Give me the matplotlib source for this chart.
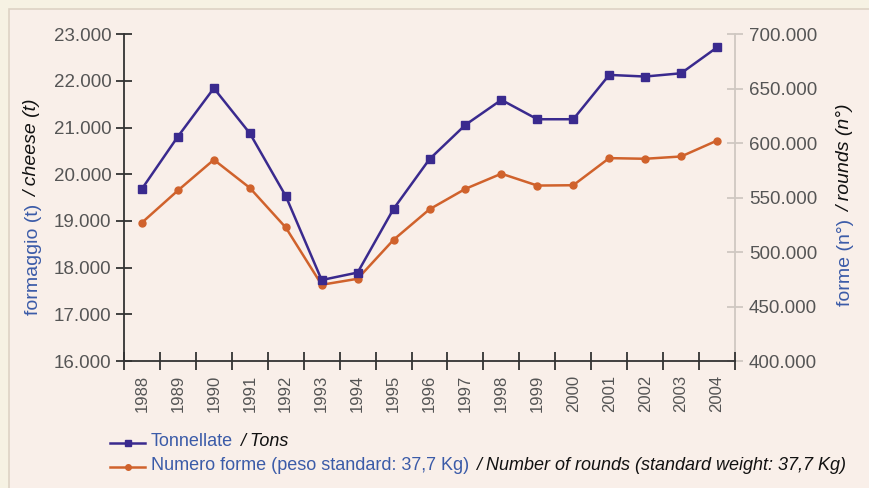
import matplotlib
matplotlib.use("Agg")
import matplotlib.pyplot as plt
from matplotlib import font_manager
from matplotlib.lines import Line2D
from matplotlib.patches import Rectangle
from matplotlib.ticker import FixedLocator, FuncFormatter, NullFormatter
from matplotlib.transforms import IdentityTransform

# dati
years = ["1988", "1989", "1990", "1991", "1992", "1993", "1994", "1995", "1996",
         "1997", "1998", "1999", "2000", "2001", "2002", "2003", "2004"]
tons = [19690, 20810, 21845, 20880, 19535, 17735, 17895, 19260, 20325,
        21060, 21595, 21180, 21180, 22130, 22095, 22165, 22720]
rounds = [527100, 556600, 584800, 559000, 522600, 470000, 475500, 511300, 539300,
          558100, 572000, 561100, 561400, 586300, 585700, 587800, 602400]

left_ticks = [16000, 17000, 18000, 19000, 20000, 21000, 22000, 23000]
right_ticks = [400000, 450000, 500000, 550000, 600000, 650000, 700000]

BLUE = "#3a2a8e"
ORANGE = "#d0622c"
TXT_BLUE = "#3b5ba8"
TICK_GRAY = "#555555"

names = {f.name for f in font_manager.fontManager.ttflist}
NARROW = "Liberation Sans Narrow" if "Liberation Sans Narrow" in names else "Liberation Sans"
plt.rcParams["font.family"] = ["Liberation Sans", "DejaVu Sans"]

W, H = 869, 488
fig = plt.figure(figsize=(W / 100, H / 100), dpi=100)
fig.patch.set_facecolor("#f6f2e3")
fig.patches.append(Rectangle((9, -5), W, H - 9 + 5, transform=IdentityTransform(),
                             facecolor="#f9efe9", edgecolor="#ddd3c4", lw=1.2, zorder=-10))

ax = fig.add_axes([124 / W, 1 - 361 / H, (735 - 124) / W, (361 - 34.3) / H])
ax2 = ax.twinx()
ax.set_facecolor("none")
ax2.set_facecolor("none")
ax.set_zorder(ax2.get_zorder() + 1)  # asse sinistro e linea blu sopra

x = list(range(len(years)))
ax.plot(x, tons, color=BLUE, lw=1.8, marker="s", ms=5.5, zorder=3)
ax2.plot(x, rounds, color=ORANGE, lw=1.8, marker="o", ms=5, zorder=3)

ax.set_xlim(-0.5, len(years) - 0.5)
ax.set_ylim(16000, 23000)
ax2.set_ylim(400000, 700000)

fmt = FuncFormatter(lambda v, p: f"{v:,.0f}".replace(",", "."))
ax.yaxis.set_major_locator(FixedLocator(left_ticks))
ax.yaxis.set_major_formatter(fmt)
ax2.yaxis.set_major_locator(FixedLocator(right_ticks))
ax2.yaxis.set_major_formatter(fmt)

# anni al centro, tacche ai bordi delle categorie
ax.set_xticks(x)
ax.set_xticklabels(years, rotation=90)
ax.set_xticks([i - 0.5 for i in range(len(years) + 1)], minor=True)
ax.xaxis.set_minor_formatter(NullFormatter())
ax.tick_params(axis="x", which="major", length=0, pad=10, labelsize=12, labelcolor=TICK_GRAY)
ax.tick_params(axis="x", which="minor", direction="inout", length=13, width=1.3, color="#333333")
ax.tick_params(axis="y", direction="inout", length=12, width=1.3, color="#333333",
               labelsize=13.5, labelcolor=TICK_GRAY, pad=3)
ax2.tick_params(axis="y", direction="inout", length=12, width=1.3, color="#cfc8c2",
                labelsize=13.5, labelcolor=TICK_GRAY, pad=4)

for s in ["top", "right"]:
    ax.spines[s].set_visible(False)
for s in ["top", "left", "bottom"]:
    ax2.spines[s].set_visible(False)
ax.spines["left"].set_color("#333333")
ax.spines["bottom"].set_color("#333333")
ax.spines["left"].set_linewidth(1.3)
ax.spines["bottom"].set_linewidth(1.3)
ax2.spines["right"].set_color("#cfc8c2")
ax2.spines["right"].set_linewidth(1.3)

renderer = fig.canvas.get_renderer()


def multi_text(x0, y0, parts, rotation=0, size=12, gap=7):
    # scrive pezzi di testo di colore/stile diverso uno dopo l'altro (coordinate in pixel)
    pos = x0 if rotation == 0 else y0
    for s, color, style in parts:
        if rotation == 0:
            t = fig.text(pos, y0, s, color=color, style=style, size=size, family=NARROW,
                         ha="left", va="center", transform=IdentityTransform())
            pos = t.get_window_extent(renderer).x1 + gap
        else:
            t = fig.text(x0, pos, s, color=color, style=style, size=size, family=NARROW,
                         rotation=90, ha="center", va="bottom", transform=IdentityTransform())
            pos = t.get_window_extent(renderer).y1 + gap


multi_text(33, H - 315, [("formaggio (t)", TXT_BLUE, "normal"), ("/ cheese (t)", "#111111", "italic")],
           rotation=90, size=14)
multi_text(846, H - 306, [("forme (n°)", TXT_BLUE, "normal"), ("/ rounds (n°)", "#111111", "italic")],
           rotation=90, size=14)

# legenda in basso
for yy, col, mk in [(H - 442.5, BLUE, "s"), (H - 466.5, ORANGE, "o")]:
    fig.lines.append(Line2D([110, 145], [yy, yy], color=col, lw=1.8, marker=None,
                            transform=IdentityTransform()))
    fig.lines.append(Line2D([127.5], [yy], color=col, marker=mk, ms=4,
                            transform=IdentityTransform()))

multi_text(151, H - 442, [("Tonnellate", TXT_BLUE, "normal"), ("/ Tons", "#111111", "italic")], size=13)
multi_text(151, H - 466, [("Numero forme (peso standard: 37,7 Kg)", TXT_BLUE, "normal"),
                          ("/ Number of rounds (standard weight: 37,7 Kg)", "#111111", "italic")], size=13)

fig.savefig("out.png", dpi=100, facecolor=fig.get_facecolor())
